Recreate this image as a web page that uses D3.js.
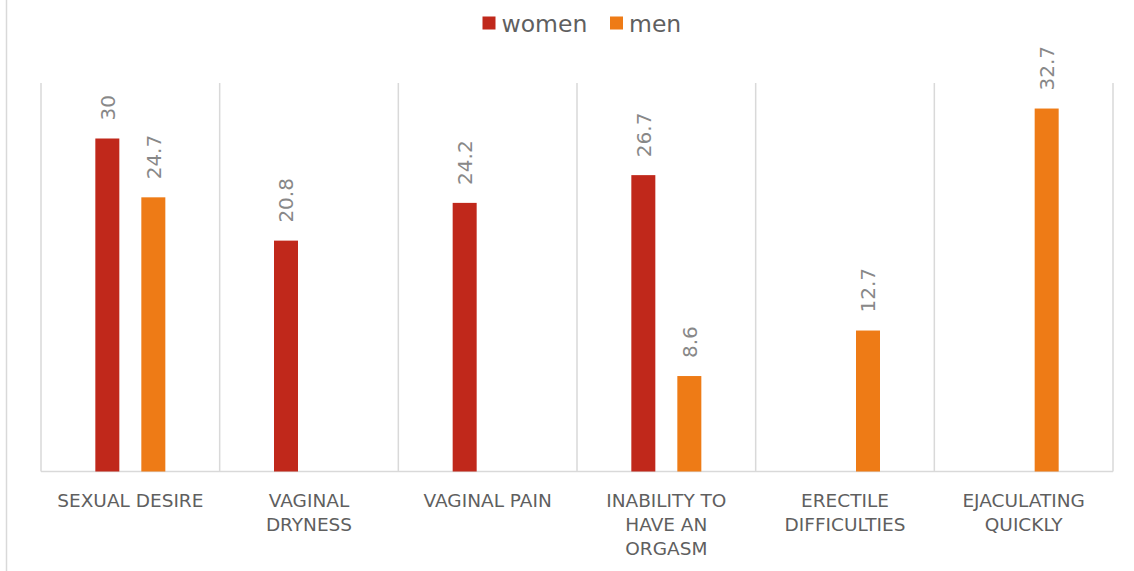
<!DOCTYPE html>
<html>
<head>
<meta charset="utf-8">
<script src="https://cdn.jsdelivr.net/npm/d3@7"></script>
<style>
  html, body { margin: 0; padding: 0; background: #fff; }
  svg { display: block; font-family: "DejaVu Sans", sans-serif; }
</style>
</head>
<body>
<svg id="chart" width="1134" height="571"></svg>
<script>
// Share of respondents reporting each sexual difficulty, by sex
const categories = ["SEXUAL DESIRE", "VAGINAL DRYNESS", "VAGINAL PAIN", "INABILITY TO HAVE AN ORGASM", "ERECTILE DIFFICULTIES", "EJACULATING QUICKLY"];
const women = [30, 20.8, 24.2, 26.7, null, null];
const men = [24.7, null, null, 8.6, 12.7, 32.7];
const seriesNames = ["women", "men"];
const seriesColors = ["#C0281B", "#EE7B16"];

const svg = d3.select("#chart");
const plot = { left: 41, right: 1113, top: 83, bottom: 471.5 };

// outer frame edge on the left
svg.append("line")
  .attr("x1", 6.5).attr("x2", 6.5).attr("y1", 0).attr("y2", 571)
  .attr("stroke", "#d9d9d9").attr("stroke-width", 1.5);

const x = d3.scaleBand().domain(categories).range([plot.left, plot.right]).padding(0);
const xSeries = d3.scalePoint().domain(seriesNames).range([-23, 23]);
const y = d3.scaleLinear().domain([0, 35]).range([plot.bottom, plot.top]);
const color = d3.scaleOrdinal().domain(seriesNames).range(seriesColors);
const barW = 24;

// vertical gridlines at category boundaries
const bounds = categories.map(c => x(c)).concat([x(categories[categories.length - 1]) + x.bandwidth()]);
svg.append("g").selectAll("line").data(bounds).join("line")
  .attr("x1", d => d).attr("x2", d => d)
  .attr("y1", plot.top).attr("y2", plot.bottom)
  .attr("stroke", "#d9d9d9").attr("stroke-width", 1.5);

// category baseline
svg.append("line")
  .attr("x1", plot.left).attr("x2", plot.right)
  .attr("y1", plot.bottom).attr("y2", plot.bottom)
  .attr("stroke", "#d9d9d9").attr("stroke-width", 1.5);

const rows = [];
categories.forEach((c, i) => {
  [women[i], men[i]].forEach((v, j) => {
    if (v != null) rows.push({ cat: c, key: seriesNames[j], value: v });
  });
});

const cx = d => x(d.cat) + x.bandwidth() / 2 + xSeries(d.key);

svg.append("g").selectAll("rect").data(rows).join("rect")
  .attr("x", d => cx(d) - barW / 2)
  .attr("width", barW)
  .attr("y", d => y(d.value))
  .attr("height", d => y(0) - y(d.value))
  .attr("fill", d => color(d.key));

// value labels, rotated
svg.append("g").selectAll("text").data(rows).join("text")
  .attr("transform", d => `translate(${cx(d)},${y(d.value) - 18}) rotate(-90)`)
  .attr("dy", "0.36em")
  .attr("text-anchor", "start")
  .attr("font-size", 20)
  .attr("fill", "#888888")
  .text(d => d.value);

// category labels, wrapped to fit the band
const labelG = svg.append("g");
const maxW = 158;
categories.forEach(c => {
  const t = labelG.append("text")
    .attr("x", x(c) + x.bandwidth() / 2)
    .attr("y", 506.5)
    .attr("text-anchor", "middle")
    .attr("font-size", 18.5)
    .attr("fill", "#5f5f5f");
  const words = c.split(" ");
  let line = [];
  let tspan = t.append("tspan").attr("x", x(c) + x.bandwidth() / 2).attr("dy", 0);
  words.forEach(w => {
    line.push(w);
    tspan.text(line.join(" "));
    if (tspan.node().getComputedTextLength() > maxW && line.length > 1) {
      line.pop();
      tspan.text(line.join(" "));
      line = [w];
      tspan = t.append("tspan").attr("x", x(c) + x.bandwidth() / 2).attr("dy", 24).text(w);
    }
  });
});

// legend
const legend = svg.append("g");
const legendX = [482.5, 610];
seriesNames.forEach((s, i) => {
  legend.append("rect")
    .attr("x", legendX[i]).attr("y", 16.5)
    .attr("width", 13).attr("height", 13)
    .attr("fill", color(s));
  legend.append("text")
    .attr("x", legendX[i] + 19).attr("y", 31.5)
    .attr("font-size", 23.5)
    .attr("fill", "#5f5f5f")
    .text(s);
});
</script>
</body>
</html>
